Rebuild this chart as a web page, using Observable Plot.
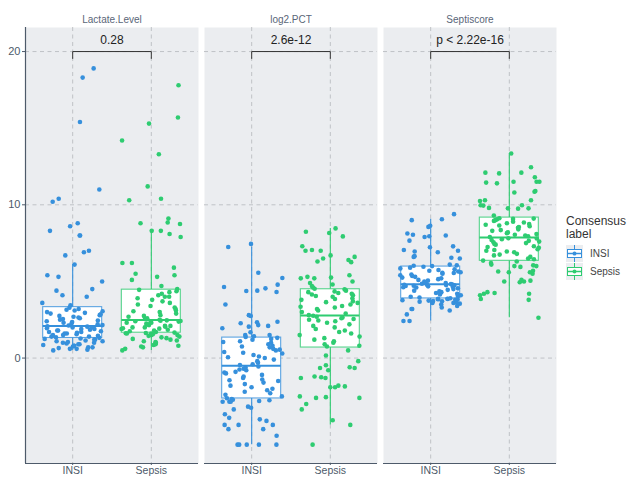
<!DOCTYPE html>
<html><head><meta charset="utf-8">
<script src="https://cdn.jsdelivr.net/npm/d3@7"></script>
<script src="https://cdn.jsdelivr.net/npm/@observablehq/plot@0.6"></script>
<style>
html,body{margin:0;padding:0;overflow:hidden;background:#fff;}
#wrap{position:relative;width:628px;height:478px;overflow:hidden;}
#legend{position:absolute;left:566px;top:215px;font-family:"Liberation Sans",Arial,sans-serif;color:#333;}
#legend .title{font-size:12px;line-height:12.5px;}
#legend .item{display:flex;align-items:center;height:17.5px;font-size:10px;color:#444;}
#legend .item svg{margin-right:7px;display:block;}
</style></head>
<body><div id="wrap"><div id="chart"></div><div id="legend"></div></div>
<script>
const panels = ["Lactate.Level", "log2.PCT", "Septiscore"];
const groups = ["INSI", "Sepsis"];
const groupColors = ["#3690dc", "#2ecc71"];
const legendTitle = ["Consensus", "label"];
const pLabels = ["0.28", "2.6e-12", "p < 2.22e-16"];
const bracketY = 20;
const yTicks = [0, 10, 20];

const lactateINSI = [0.5,0.55,0.6,0.6,0.65,0.7,0.7,0.75,0.8,0.8,0.85,0.9,0.9,0.95,1.0,1.0,1.05,1.1,1.1,1.15,1.2,1.2,1.25,1.28,
1.32,1.35,1.4,1.4,1.45,1.5,1.5,1.55,1.6,1.6,1.65,1.7,1.7,1.75,1.8,1.8,1.85,1.9,1.9,1.95,2.0,2.0,2.05,2.08,
2.12,2.15,2.2,2.25,2.3,2.35,2.4,2.45,2.5,2.55,2.6,2.65,2.7,2.75,2.8,2.85,2.9,2.95,3.0,3.05,3.1,3.15,3.2,3.28,
3.45,3.6,4.0,4.1,4.4,4.5,5.0,5.3,5.4,6.1,6.7,6.9,7.0,8.0,8.0,8.3,8.6,8.8,10.2,10.4,11.0,15.4,18.3,18.9];
const lactateSepsis = [0.5,0.6,0.7,0.75,0.8,0.85,0.9,0.95,1.0,1.05,1.1,1.15,1.2,1.25,1.3,1.35,1.4,1.45,1.5,1.5,1.55,1.6,1.6,1.62,1.64,
1.66,1.7,1.75,1.8,1.85,1.9,1.92,1.95,2.0,2.0,2.05,2.1,2.1,2.15,2.2,2.2,2.25,2.3,2.3,2.35,2.38,2.4,2.42,2.44,2.46,
2.5,2.55,2.6,2.7,2.75,2.8,2.9,3.0,3.05,3.1,3.2,3.3,3.4,3.5,3.6,3.7,3.8,3.9,4.0,4.0,4.1,4.2,4.3,4.36,4.45,
4.5,4.7,5.1,5.3,5.4,5.5,5.9,6.2,6.2,7.9,8.1,8.3,8.3,8.75,8.8,8.85,9.1,10.3,10.4,11.2,13.3,14.2,15.3,15.7,17.8];
const pctINSI = [-5.65,-5.65,-5.65,-5.65,-5.65,-5.07,-4.64,-4.64,-4.36,-4.36,-4.36,-4.1,-4.0,-3.9,-3.67,-3.35,-3.24,-3.17,-2.85,-2.85,-2.85,-2.8,-2.75,-2.72,-2.68,
-2.62,-2.5,-2.4,-2.3,-2.2,-2.1,-2.0,-1.9,-1.8,-1.7,-1.6,-1.5,-1.45,-1.4,-1.3,-1.2,-1.1,-1.0,-0.95,-0.9,-0.8,-0.75,-0.7,-0.6,-0.55,
-0.45,-0.4,-0.3,-0.2,-0.1,0.0,0.05,0.1,0.2,0.3,0.35,0.4,0.5,0.55,0.6,0.7,0.75,0.8,0.9,1.0,1.05,1.1,1.2,1.25,1.32,
1.38,1.42,1.5,1.5,1.68,1.95,2.05,2.1,2.15,2.27,2.33,2.37,2.74,2.8,3.5,4.31,4.38,4.4,4.55,4.64,4.79,5.22,5.57,7.25,7.45];
const pctSepsis = [-5.65,-4.36,-4.06,-3.35,-3.0,-2.6,-2.6,-2.55,-2.5,-1.9,-1.9,-1.85,-1.8,-1.3,-1.3,-1.25,-1.2,-0.8,-0.65,-0.65,-0.6,-0.47,-0.2,0.17,0.5,
0.75,0.8,0.9,1.0,1.1,1.2,1.3,1.4,1.5,1.6,1.7,1.8,1.9,2.0,2.1,2.2,2.3,2.4,2.45,2.5,2.55,2.6,2.65,2.7,2.76,
2.8,2.9,3.0,3.1,3.2,3.3,3.35,3.4,3.5,3.6,3.65,3.7,3.8,3.85,3.9,4.0,4.05,4.1,4.15,4.2,4.25,4.3,4.35,4.4,4.48,
4.52,4.6,4.7,4.8,4.9,5.0,5.2,5.2,5.25,5.3,5.4,6.26,6.3,6.4,6.5,6.6,6.7,7.0,7.0,7.05,7.3,7.94,8.16,8.24,8.46];
const septiINSI = [2.42,2.42,2.85,3.1,3.2,3.2,3.3,3.4,3.5,3.55,3.6,3.6,3.62,3.65,3.68,3.7,3.72,3.75,3.78,3.8,3.82,3.84,3.85,3.86,3.87,
3.9,3.95,4.0,4.05,4.1,4.15,4.2,4.25,4.3,4.35,4.4,4.45,4.5,4.55,4.6,4.62,4.65,4.68,4.7,4.72,4.74,4.76,4.78,4.78,4.79,
4.83,4.85,4.9,4.95,5.0,5.05,5.1,5.15,5.2,5.25,5.3,5.35,5.4,5.45,5.5,5.55,5.57,5.6,5.65,5.7,5.75,5.8,5.85,5.9,5.96,
6.0,6.02,6.05,6.1,6.5,6.55,6.6,6.65,6.9,6.95,7.0,7.05,7.23,7.29,7.66,7.9,7.95,8.0,8.05,8.13,8.56,8.63,9.0,9.06,9.39];
const septiSepsis = [2.63,3.8,3.85,4.1,4.2,4.2,4.25,4.3,4.95,5.0,5.0,5.05,5.1,5.5,5.6,5.6,5.65,5.7,5.95,6.0,6.0,6.05,6.1,6.2,6.3,
6.36,6.45,6.5,6.6,6.7,6.75,6.8,6.9,6.95,7.0,7.05,7.1,7.2,7.25,7.3,7.4,7.45,7.5,7.55,7.6,7.65,7.7,7.75,7.8,7.82,
7.9,7.95,8.0,8.05,8.1,8.15,8.2,8.3,8.35,8.4,8.5,8.55,8.6,8.65,8.7,8.75,8.8,8.85,8.9,8.95,9.0,9.05,9.08,9.1,9.12,
9.3,9.75,9.77,9.77,9.8,9.95,9.97,9.97,10.25,10.3,10.3,10.8,10.85,10.9,11.4,11.45,11.5,11.5,11.5,11.8,12.05,12.1,12.1,12.45,13.35];

const series = [
  {panel: panels[0], group: groups[0], values: lactateINSI},
  {panel: panels[0], group: groups[1], values: lactateSepsis},
  {panel: panels[1], group: groups[0], values: pctINSI},
  {panel: panels[1], group: groups[1], values: pctSepsis},
  {panel: panels[2], group: groups[0], values: septiINSI},
  {panel: panels[2], group: groups[1], values: septiSepsis}
];

const xDomain = [0.4, 2.6];
const yDomain = [-6.88, 21.57];
const boxHalf = 0.375;
const jitterW = 0.78;

// deterministic jitter offset (position only, not data)
function jitterFrac(i, k) {
  const s = Math.sin(i * 12.9898 + k * 78.233) * 43758.5453;
  return s - Math.floor(s);
}

const points = [];
series.forEach((s, k) => {
  const xi = groups.indexOf(s.group) + 1;
  s.values.forEach((v, i) => {
    points.push({panel: s.panel, group: s.group, value: v, x: xi + (jitterFrac(i, k + 1) - 0.5) * jitterW});
  });
});

const stats = series.map(s => {
  const v = s.values.slice().sort(d3.ascending);
  const q1 = d3.quantileSorted(v, 0.25), med = d3.quantileSorted(v, 0.5), q3 = d3.quantileSorted(v, 0.75);
  const iqr = q3 - q1;
  const lo = d3.min(v.filter(d => d >= q1 - 1.5 * iqr));
  const hi = d3.max(v.filter(d => d <= q3 + 1.5 * iqr));
  const xi = groups.indexOf(s.group) + 1;
  return {panel: s.panel, group: s.group, xi, q1, med, q3, lo, hi};
});

const brackets = [];
panels.forEach(p => {
  const tip = bracketY - 0.45;
  [[1, tip], [1, bracketY], [2, bracketY], [2, tip]].forEach(([x, y]) => brackets.push({panel: p, x, y}));
});
const sig = panels.map((p, i) => ({panel: p, label: pLabels[i]}));

const axisColor = "#4d5a6a";
const chart = Plot.plot({
  width: 628, height: 478,
  marginLeft: 25, marginRight: 72, marginTop: 27, marginBottom: 15,
  style: {fontFamily: "'Liberation Sans', Arial, sans-serif", background: "transparent"},
  fx: {domain: panels, paddingInner: 0.0335, paddingOuter: 0, round: false, label: null},
  x: {domain: xDomain, label: null},
  y: {domain: yDomain, label: null},
  color: {domain: groups, range: groupColors},
  marks: [
    Plot.frame({fill: "#EBEDF0", stroke: null}),
    Plot.gridY(yTicks, {stroke: "#bfc2c6", strokeOpacity: 1, strokeDasharray: "4,3.5"}),
    Plot.gridX([1, 2], {stroke: "#bfc2c6", strokeOpacity: 1, strokeDasharray: "4,3.5"}),
    Plot.axisFx({anchor: "top", tickSize: 0, tickPadding: 5, label: null, fontSize: 10, color: "#5a6678"}),
    Plot.axisY(yTicks, {anchor: "left", tickSize: 3, tickPadding: 2, label: null, fontSize: 11, color: axisColor}),
    Plot.axisX([1, 2], {anchor: "bottom", tickSize: 2, tickPadding: 1, label: null, fontSize: 10.5, color: axisColor, tickFormat: d => groups[d - 1]}),
    Plot.ruleY([yDomain[0]], {stroke: axisColor, strokeWidth: 1.2}),
    Plot.ruleX([{panel: panels[0], x: xDomain[0]}], {x: "x", fx: "panel", stroke: axisColor, strokeWidth: 1.2}),
    Plot.ruleX(stats, {x: "xi", y1: "lo", y2: "q1", fx: "panel", stroke: "group", strokeWidth: 1.1}),
    Plot.ruleX(stats, {x: "xi", y1: "q3", y2: "hi", fx: "panel", stroke: "group", strokeWidth: 1.1}),
    Plot.rectY(stats, {x1: d => d.xi - boxHalf, x2: d => d.xi + boxHalf, y1: "q1", y2: "q3", fx: "panel", fill: "white", stroke: "group", strokeWidth: 1.1, strokeOpacity: 0.8}),
    Plot.ruleY(stats, {x1: d => d.xi - boxHalf, x2: d => d.xi + boxHalf, y: "med", fx: "panel", stroke: "group", strokeWidth: 2}),
    Plot.dot(points, {x: "x", y: "value", fx: "panel", fill: "group", r: 2.3, stroke: null}),
    Plot.line(brackets, {x: "x", y: "y", z: "panel", fx: "panel", stroke: "#333", strokeWidth: 1}),
    Plot.text(sig, {x: 1.5, y: bracketY, text: "label", fx: "panel", dy: -11, fontSize: 12, fill: "#222"})
  ]
});
document.getElementById("chart").appendChild(chart);

const legend = document.getElementById("legend");
legend.innerHTML = `<div class="title">${legendTitle.join("<br>")}</div><div style="height:5px"></div>` +
  groups.map((g, i) => {
    const c = groupColors[i];
    return `<div class="item"><svg width="17" height="17"><rect width="17" height="17" fill="#EBEDF0"/>` +
      `<line x1="8.5" x2="8.5" y1="0" y2="17" stroke="${c}"/>` +
      `<rect x="1.5" y="4.5" width="14" height="8" fill="white" stroke="${c}"/>` +
      `<line x1="1.5" x2="15.5" y1="8.5" y2="8.5" stroke="${c}" stroke-width="1.5"/>` +
      `<circle cx="8.5" cy="8.5" r="2" fill="${c}"/></svg><span>${g}</span></div>`;
  }).join("");
</script>
</body></html>
